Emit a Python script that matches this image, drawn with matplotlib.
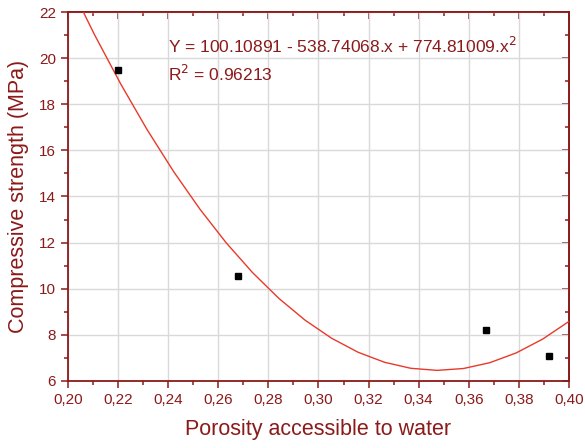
import numpy as np
import matplotlib
matplotlib.use('Agg')
from matplotlib import pyplot as plt
from matplotlib.ticker import MultipleLocator, FuncFormatter

# measured data
porosity = [0.220, 0.268, 0.367, 0.392]
strength = [19.5, 10.55, 8.2, 7.1]

# quadratic fit coefficients (Y = a + b.x + c.x^2)
a, b, c = 100.10891, -538.74068, 774.81009
r2 = 0.96213

dark = '#8b1a1a'
plt.rcParams['font.family'] = ['Liberation Sans', 'DejaVu Sans']

fig = plt.figure(figsize=(5.85, 4.48), dpi=100)
ax = fig.add_axes([0.1162, 0.1496, 0.8564, 0.8236])

xf = np.linspace(0.20, 0.40, 20)
ax.plot(xf, a + b * xf + c * xf ** 2, color='#e8392b', lw=1.0, zorder=3)
ax.plot(porosity, strength, 's', color='black', ms=4.5, zorder=4)

ax.set_xlim(0.20, 0.40)
ax.set_ylim(6, 22)


def set_locators(axis_x, axis_y):
    axis_x.set_major_locator(MultipleLocator(0.02))
    axis_x.set_minor_locator(MultipleLocator(0.01))
    axis_y.set_major_locator(MultipleLocator(2))
    axis_y.set_minor_locator(MultipleLocator(1))


set_locators(ax.xaxis, ax.yaxis)
ax.xaxis.set_major_formatter(FuncFormatter(lambda v, p: f'{v:.2f}'.replace('.', ',')))
ax.yaxis.set_major_formatter(FuncFormatter(lambda v, p: f'{v:.0f}'))

ax.grid(True, which='major', color='#d9d9d9', lw=1.0, zorder=0)
ax.set_axisbelow(True)

for s in ax.spines.values():
    s.set_color(dark)
    s.set_linewidth(1.3)

ax.tick_params(which='both', colors=dark, labelsize=11, width=1.1, direction='out')
ax.tick_params(which='major', length=5)
ax.tick_params(which='minor', length=3)

# mirrored axes on top and right, ticks pointing inward
top = ax.secondary_xaxis('top')
right = ax.secondary_yaxis('right')
set_locators(top.xaxis, right.yaxis)
for sec in (top, right):
    sec.tick_params(which='both', colors=dark, direction='in', width=1.1,
                    labeltop=False, labelright=False)
    sec.tick_params(which='major', length=5)
    sec.tick_params(which='minor', length=3)
    for s in sec.spines.values():
        s.set_color(dark)
        s.set_linewidth(1.3)

ax.set_xlabel('Porosity accessible to water', color=dark, fontsize=15.5, labelpad=9)
ax.set_ylabel('Compressive strength (MPa)', color=dark, fontsize=15.5, labelpad=7)

ax.text(0.199, 0.908, f'Y = {a:.5f} - {-b:.5f}.x + {c:.5f}.x$^2$',
        transform=ax.transAxes, color=dark, fontsize=12.5, va='center')
ax.text(0.199, 0.832, f'R$^2$ = {r2:.5f}',
        transform=ax.transAxes, color=dark, fontsize=12.5, va='center')

fig.savefig('out.png', dpi=100)
